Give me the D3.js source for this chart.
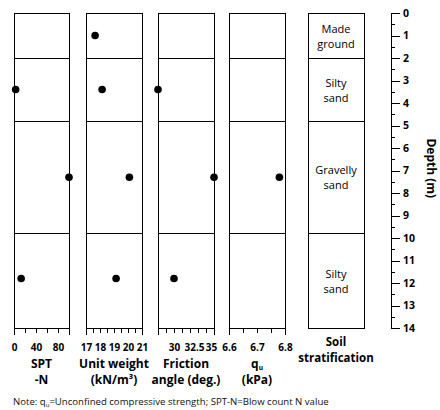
<!DOCTYPE html>
<html>
<head>
<meta charset="utf-8">
<script src="https://cdn.jsdelivr.net/npm/d3@7"></script>
<style>
  body { margin: 0; background: #fff; }
  svg { display: block; font-family: "Open Sans", "Liberation Sans", sans-serif; }
</style>
</head>
<body>
<script>
// soil layers
const layerNames = [["Made", "ground"], ["Silty", "sand"], ["Gravelly", "sand"], ["Silty", "sand"]];
const layerTop = [0, 2, 4.8, 9.8];
const layerBottom = [2, 4.8, 9.8, 14];

// measured values (depth in m)
const sptDepth = [3.4, 7.3, 11.8];
const sptN = [3, 100, 13];
const uwDepth = [1.0, 3.4, 7.3, 11.8];
const unitWeight = [17.65, 18.15, 20.1, 19.15];
const faDepth = [3.4, 7.3, 11.8];
const frictionAngle = [28, 35, 30];
const quDepth = [7.3];
const quValue = [6.78];

// axes
const sptTicks = [0, 20, 40, 60, 80, 100];
const sptLabels = [0, 40, 80];
const uwTicks = [17, 17.5, 18, 18.5, 19, 19.5, 20, 20.5, 21];
const uwLabels = [17, 18, 19, 20, 21];
const faTicks = [28, 29, 30, 31, 32, 33, 34, 35];
const faLabels = [30, 32.5, 35];
const quTicks = [6.6, 6.65, 6.7, 6.75, 6.8];
const quLabels = [6.6, 6.7, 6.8];
const depthTicks = d3.range(0, 15, 1);
const depthMinor = d3.range(0.5, 14, 1);

const W = 440, H = 410;
const svg = d3.select("body").append("svg").attr("width", W).attr("height", H);

const y = d3.scaleLinear().domain([0, 14]).range([13, 328]);

const panels = [
  { x0: 14, x1: 69, domain: [0, 100], ticks: sptTicks, labels: sptLabels, depth: sptDepth, vals: sptN, title: ["SPT", "-N"] },
  { x0: 86, x1: 142, domain: [17, 21], ticks: uwTicks, labels: uwLabels, depth: uwDepth, vals: unitWeight, title: ["Unit weight", "(kN/m³)"] },
  { x0: 158, x1: 214, domain: [28, 35], ticks: faTicks, labels: faLabels, depth: faDepth, vals: frictionAngle, title: ["Friction", "angle (deg.)"] },
  { x0: 229, x1: 285, domain: [6.6, 6.8], ticks: quTicks, labels: quLabels, depth: quDepth, vals: quValue, title: ["q", "(kPa)"] }
];

panels.forEach((p, k) => {
  const x = d3.scaleLinear().domain(p.domain).range([p.x0, p.x1]);
  const g = svg.append("g");

  // layer cells
  g.selectAll("rect")
    .data(layerTop)
    .enter()
    .append("rect")
    .attr("x", p.x0)
    .attr("y", (d) => y(d))
    .attr("width", p.x1 - p.x0)
    .attr("height", (d, i) => y(layerBottom[i]) - y(d))
    .attr("fill", "none")
    .attr("stroke", "#000")
    .attr("shape-rendering", "crispEdges");

  // ticks
  const ax = g.append("g")
    .attr("transform", "translate(0," + y(14) + ")")
    .call(d3.axisBottom(x).tickValues(p.ticks).tickSizeInner(5).tickSizeOuter(7).tickFormat(""));
  ax.selectAll("path, line").attr("stroke", "#000").attr("shape-rendering", "crispEdges");

  // labels
  const lab = g.append("g")
    .attr("transform", "translate(0," + y(14) + ")")
    .call(d3.axisBottom(x).tickValues(p.labels).tickSize(0).tickPadding(16).tickFormat((d) => d));
  lab.select(".domain").remove();
  lab.selectAll("text")
    .attr("font-family", "'Open Sans', sans-serif")
    .attr("font-size", 10)
    .attr("font-weight", "bold")
    .attr("fill", "#000");
  if (k === 2) {
    // last label sits a little inside the frame
    lab.selectAll("text").filter((d) => d === 35).attr("dx", -3);
  }

  // points
  g.selectAll("circle")
    .data(p.vals)
    .enter()
    .append("circle")
    .attr("cx", (d) => x(d))
    .attr("cy", (d, i) => y(p.depth[i]))
    .attr("r", 3.8)
    .attr("fill", "#000");

  // title
  const cx = (p.x0 + p.x1) / 2;
  const t1 = g.append("text")
    .attr("x", cx).attr("y", 368)
    .attr("text-anchor", "middle")
    .attr("font-size", 12).attr("font-weight", "bold")
    .text(p.title[0]);
  if (k === 3) {
    t1.append("tspan").attr("font-size", 6.5).attr("dy", 1.5).text("u");
  }
  g.append("text")
    .attr("x", cx).attr("y", 384)
    .attr("text-anchor", "middle")
    .attr("font-size", 12).attr("font-weight", "bold")
    .text(p.title[1]);
});

// stratification column
const sx0 = 308, sx1 = 364;
const strat = svg.append("g");
strat.selectAll("rect")
  .data(layerTop)
  .enter()
  .append("rect")
  .attr("x", sx0)
  .attr("y", (d) => y(d))
  .attr("width", sx1 - sx0)
  .attr("height", (d, i) => y(layerBottom[i]) - y(d))
  .attr("fill", "none")
  .attr("stroke", "#000")
  .attr("shape-rendering", "crispEdges");

strat.selectAll("text.layer")
  .data(layerNames)
  .enter()
  .append("text")
  .attr("class", "layer")
  .attr("text-anchor", "middle")
  .attr("font-size", 11)
  .attr("x", (sx0 + sx1) / 2)
  .attr("y", (d, i) => (y(layerTop[i]) + y(layerBottom[i])) / 2 - 3)
  .each(function (d) {
    const t = d3.select(this);
    t.append("tspan").attr("x", (sx0 + sx1) / 2).attr("dy", 0).text(d[0]);
    t.append("tspan").attr("x", (sx0 + sx1) / 2).attr("dy", 15).text(d[1]);
  });

strat.append("text")
  .attr("x", (sx0 + sx1) / 2).attr("y", 346)
  .attr("text-anchor", "middle")
  .attr("font-size", 11.5).attr("font-weight", "bold")
  .text("Soil");
strat.append("text")
  .attr("x", (sx0 + sx1) / 2).attr("y", 362)
  .attr("text-anchor", "middle")
  .attr("font-size", 11.5).attr("font-weight", "bold")
  .text("stratification");

// depth axis
const dAx = svg.append("g")
  .attr("transform", "translate(391,0)")
  .call(d3.axisRight(y).tickValues(depthTicks).tickSizeInner(9).tickSizeOuter(0).tickPadding(3));
dAx.selectAll("text")
  .attr("font-family", "'Open Sans', sans-serif")
  .attr("font-size", 10.5)
  .attr("font-weight", "bold")
  .attr("fill", "#000");
const dMin = svg.append("g")
  .attr("transform", "translate(391,0)")
  .call(d3.axisRight(y).tickValues(depthMinor).tickSize(4).tickFormat(""));
dMin.select(".domain").remove();
svg.selectAll("path, line").attr("shape-rendering", "crispEdges");

svg.append("text")
  .attr("transform", "translate(427," + y(6.9) + ") rotate(90)")
  .attr("text-anchor", "middle")
  .attr("font-size", 12).attr("font-weight", "bold")
  .text("Depth (m)");

// note
const note = svg.append("text")
  .attr("x", 13).attr("y", 405)
  .attr("font-size", 9.6)
  .attr("fill", "#111");
note.append("tspan").text("Note: q");
note.append("tspan").attr("font-size", 6).attr("dy", 2).text("u");
note.append("tspan").attr("dy", -2).text("=Unconfined compressive strength; SPT-N=Blow count N value");
</script>
</body>
</html>
